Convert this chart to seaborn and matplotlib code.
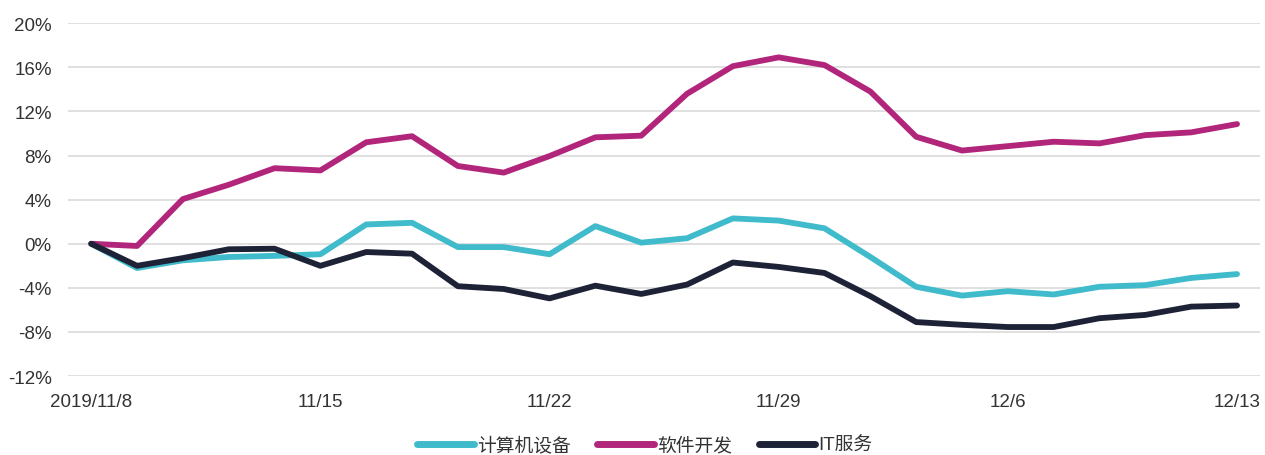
import matplotlib
matplotlib.use("Agg")
import matplotlib.pyplot as plt
import matplotlib.ticker as mticker
import numpy as np
import pandas as pd
import seaborn as sns

# trading days 2019/11/8 .. 2019/12/13
dates = ["2019/11/8", "11/11", "11/12", "11/13", "11/14", "11/15",
         "11/18", "11/19", "11/20", "11/21", "11/22",
         "11/25", "11/26", "11/27", "11/28", "11/29",
         "12/2", "12/3", "12/4", "12/5", "12/6",
         "12/9", "12/10", "12/11", "12/12", "12/13"]
tick_labels = ["2019/11/8", "11/15", "11/22", "11/29", "12/6", "12/13"]

# cumulative change, %
computer_hw = [0.0, -2.2, -1.5, -1.2, -1.1, -0.95, 1.75, 1.9, -0.3, -0.3, -0.95,
               1.6, 0.1, 0.5, 2.3, 2.1, 1.4, -1.2, -3.9, -4.7, -4.3, -4.6,
               -3.9, -3.75, -3.1, -2.75]
software_dev = [0.0, -0.2, 4.05, 5.35, 6.85, 6.65, 9.2, 9.75, 7.05, 6.45, 7.95,
                9.65, 9.8, 13.6, 16.1, 16.9, 16.2, 13.8, 9.7, 8.45, 8.85, 9.25,
                9.1, 9.85, 10.1, 10.85]
it_services = [0.0, -2.0, -1.3, -0.5, -0.45, -2.0, -0.75, -0.9, -3.85, -4.1, -4.95,
               -3.8, -4.55, -3.7, -1.7, -2.1, -2.65, -4.75, -7.1, -7.35, -7.55, -7.55,
               -6.75, -6.45, -5.7, -5.6]

series_names = ["计算机设备", "软件开发", "IT服务"]
colors = ["#40BBCB", "#B1257B", "#1E2237"]

df = pd.DataFrame({
    "idx": list(range(len(dates))) * 3,
    "value": computer_hw + software_dev + it_services,
    "series": np.repeat(series_names, len(dates)),
})

sns.set_style("white")
plt.rcParams["font.family"] = ["Liberation Sans", "Noto Sans CJK SC", "DejaVu Sans"]

fig = plt.figure(figsize=(12.65, 4.56), dpi=100)
ax = fig.add_axes([0.054, 0.173, 0.942, 0.774])

sns.lineplot(data=df, x="idx", y="value", hue="series", hue_order=series_names,
             palette=colors, linewidth=4.2, ax=ax, legend=False,
             solid_capstyle="round", solid_joinstyle="round")

ax.set_xlim(-0.5, 25.5)
ax.set_ylim(-12, 20)
ax.set_yticks(np.arange(-12, 21, 4))
ax.yaxis.set_major_formatter(mticker.FuncFormatter(lambda v, _: f"{v:.0f}%"))
ax.set_xticks([dates.index(t) for t in tick_labels])
ax.set_xticklabels(tick_labels)
ax.tick_params(axis="both", labelsize=13.5, colors="#333333", length=0)
ax.tick_params(axis="x", pad=12)
ax.tick_params(axis="y", pad=12)
ax.grid(axis="y", color="#DDDDDD", linewidth=1.3)
ax.set_axisbelow(True)
for s in ax.spines.values():
    s.set_visible(False)
ax.set_xlabel("")
ax.set_ylabel("")

handles = [plt.Line2D([], [], color=c, linewidth=5, solid_capstyle="round") for c in colors]
fig.legend(handles, series_names, loc="lower center", bbox_to_anchor=(0.51, -0.035),
           ncol=3, frameon=False, fontsize=13.5, handlelength=3.0, handletextpad=0.2,
           columnspacing=1.4, labelcolor="#333333")

fig.savefig("out.png", dpi=100)
